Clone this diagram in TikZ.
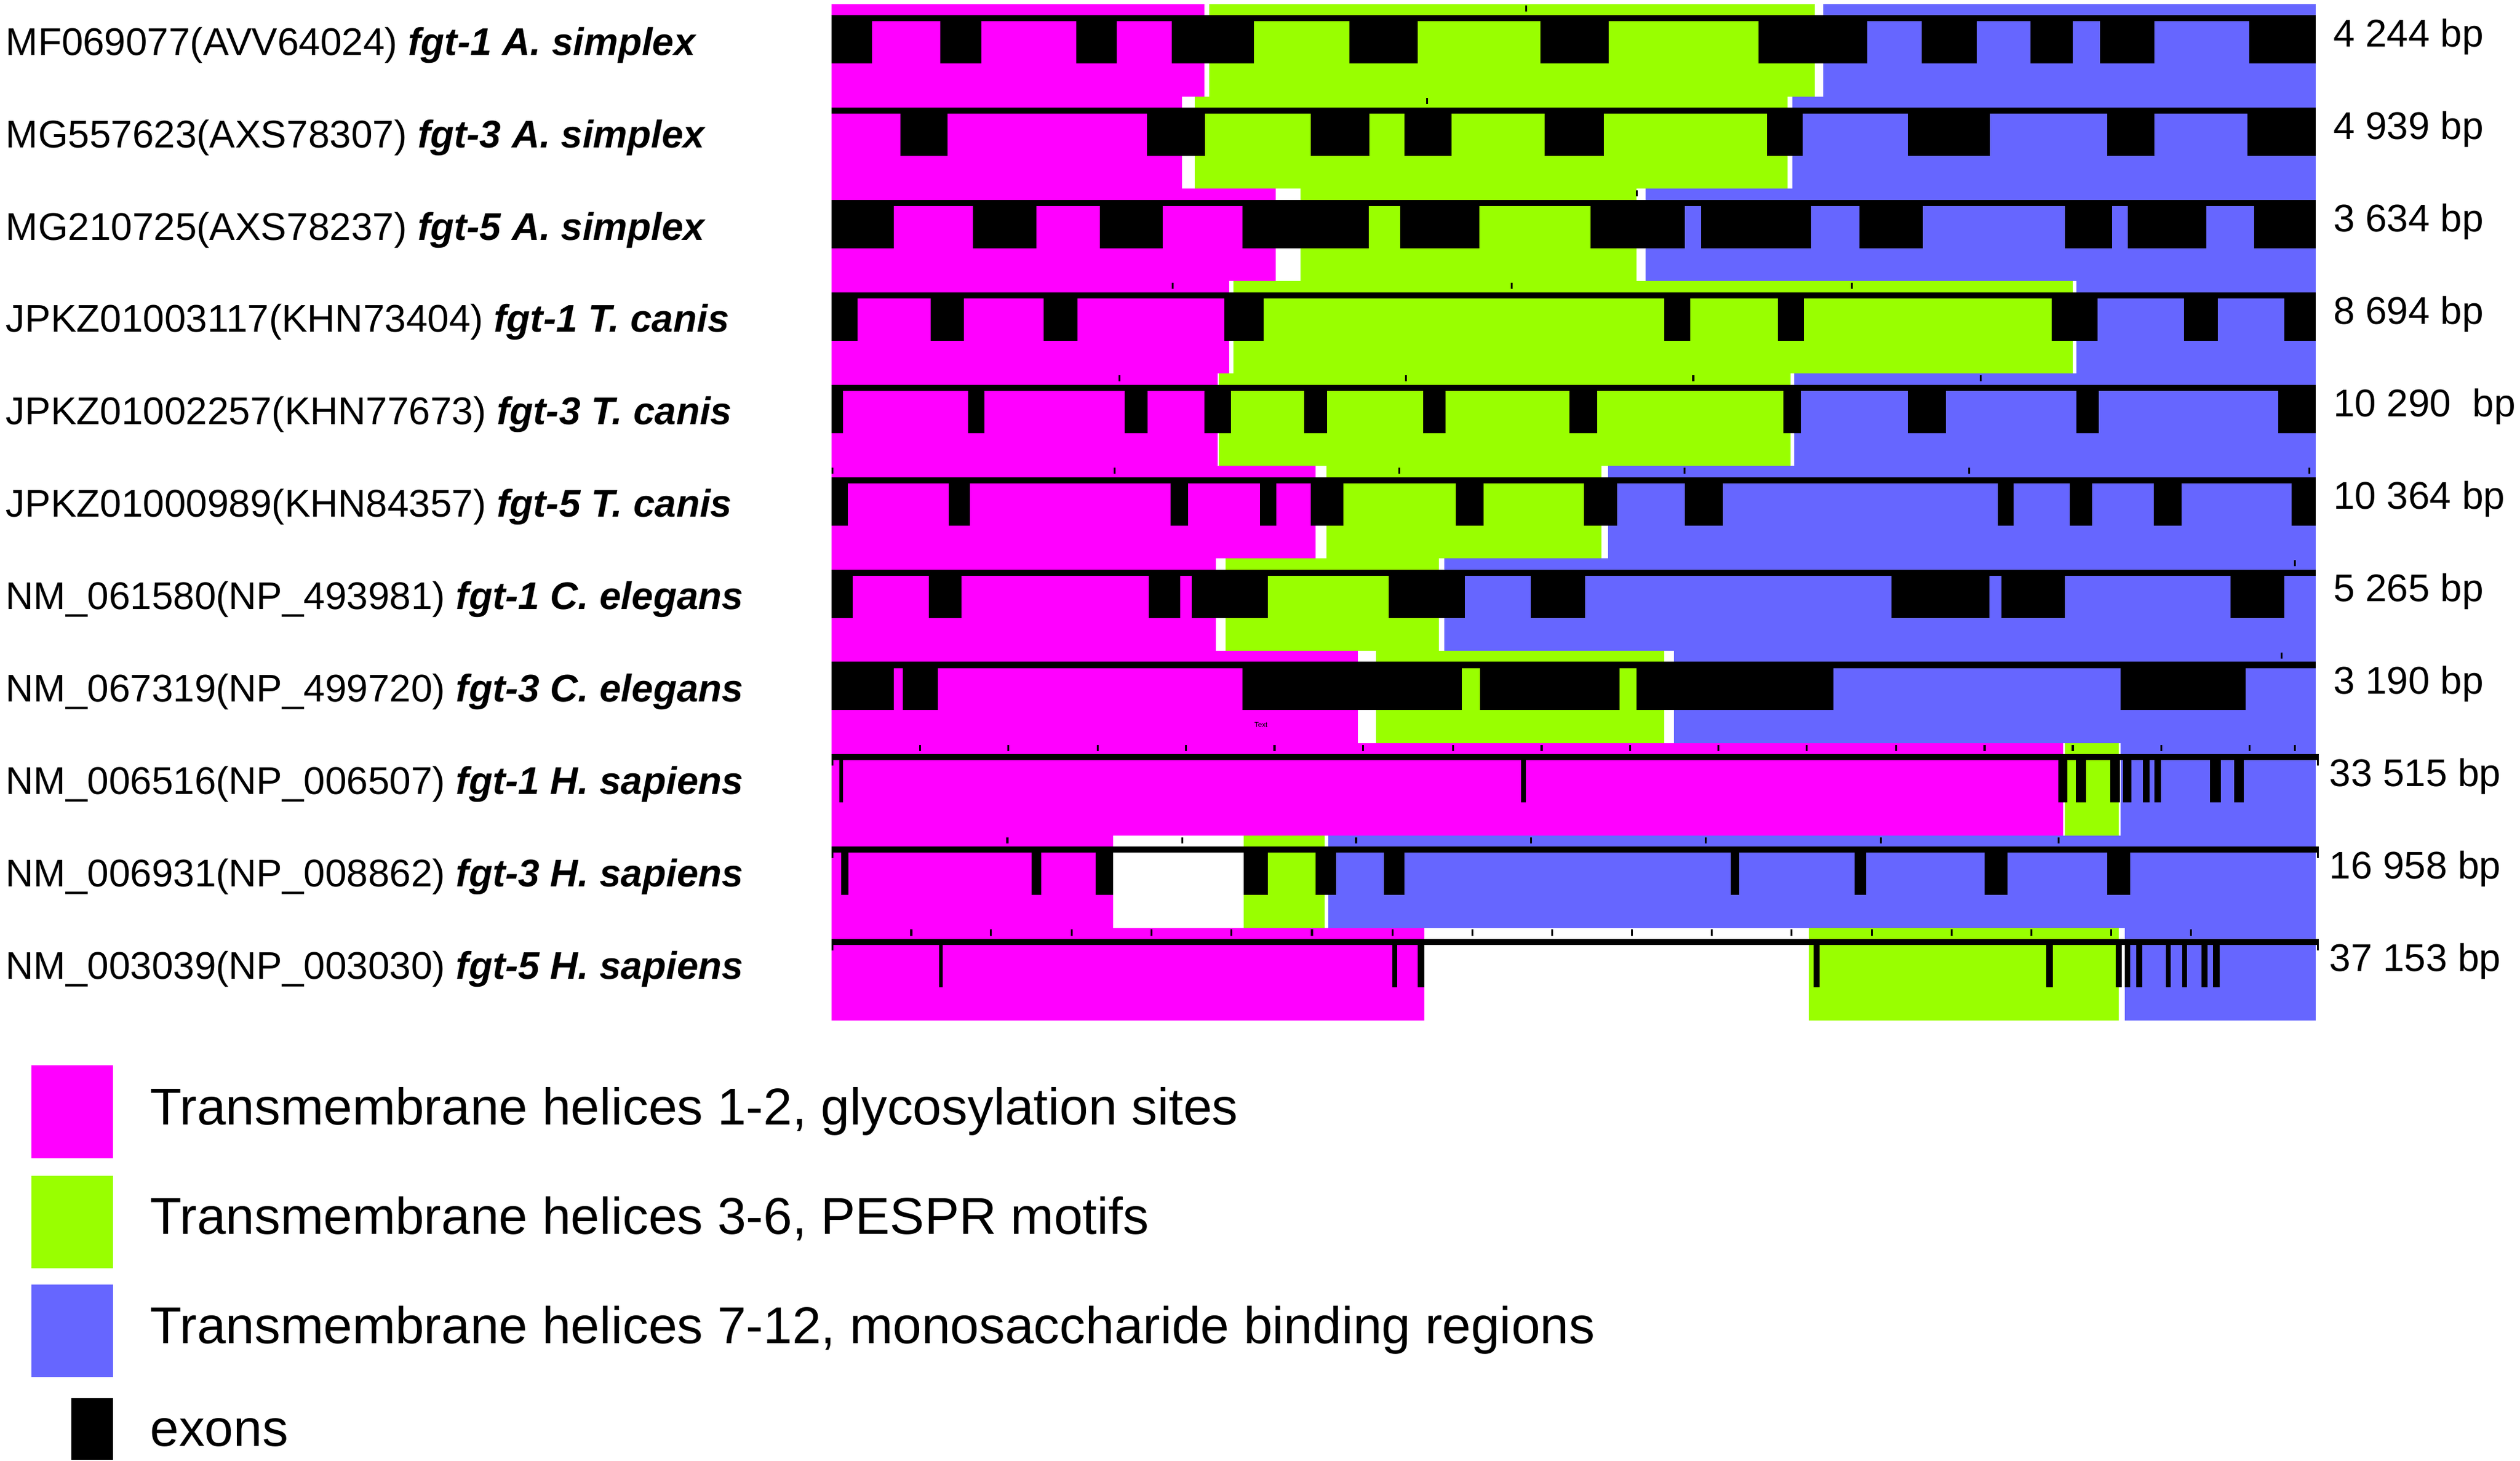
\documentclass[tikz,border=0pt]{standalone}
\usepackage{fontspec}
\setmainfont{Liberation Sans}
\definecolor{magc}{RGB}{255,0,255}
\definecolor{grnc}{RGB}{153,255,0}
\definecolor{bluc}{RGB}{102,102,255}
\tikzset{
  ticklin/.style={draw=black,line width=0.6pt},
  rowlabel/.style={anchor=base west,inner sep=0pt,font=\fontsize{12}{14}\selectfont},
  bplabel/.style={anchor=base west,inner sep=0pt,font=\fontsize{12}{14}\selectfont},
  legtext/.style={anchor=base west,inner sep=0pt,font=\fontsize{16.1}{19}\selectfont},
  endtick/.style={draw=black,line width=0.5pt}
}
% #1 row index, #2 colour regions colour/x1/x2, #3 exons x1/x2, #4 ticks, #5 extra
\newcommand{\generow}[5]{%
\begin{scope}[shift={(0,{9.4+57.5*#1})}]
  \foreach \cc/\p/\q in {#2} \fill[fill=\cc] (\p,-6.9) rectangle (\q,50.6);
  \fill[black] (517.4,0) rectangle (1441,3.8);
  \foreach \p/\q in {#3} \fill[black] (\p,0) rectangle (\q,30.1);
  \foreach \t in {#4} \draw[ticklin] (\t,-5.9) -- (\t,-2.1);
  #5
\end{scope}}
\begin{document}
\begin{tikzpicture}[x=0.5pt,y=-0.5pt]
\useasboundingbox (0,0) rectangle (1568,909.2);

\generow{0}{magc/517.4/749.3, grnc/752.3/1129, bluc/1134.3/1441}
{517.4/542.5, 585/610.6, 669.8/694.9, 729/780.4, 839.6/882, 958.6/1001, 1094.3/1161.8, 1195.9/1230, 1263.4/1289.7, 1306.5/1340.5, 1399.7/1441}
{949.6}{}

\generow{1}{magc/517.4/735.6, grnc/743.3/1112.2, bluc/1115.2/1441}
{560.4/589.7, 713.5/749.9, 815.7/852.1, 873.7/903, 961/998, 1099.6/1121.8, 1186.9/1238.3, 1311.3/1340.5, 1398.5/1441}
{888}{}

\generow{2}{magc/517.4/793.6, grnc/809.1/1018.3, bluc/1023.7/1441}
{517.4/556.2, 605.3/644.7, 684.2/723.6, 773.2/851.5, 871.3/920.3, 989.6/1048.2, 1058.4/1127.1, 1157/1196.5, 1285/1314.2, 1323.8/1372.8, 1402.7/1441}
{1018.3}{}

\generow{3}{magc/517.4/764.9, grnc/767.3/1289.7, bluc/1292.1/1441}
{517.4/533.5, 579/599.9, 649.5/670.4, 761.9/786.4, 1035.7/1051.8, 1106.2/1122.4, 1276.6/1305.3, 1359.1/1380, 1421.2/1441}
{729.6, 940.6, 1152.2}{}

\generow{4}{magc/517.4/757.7, grnc/758.6/1114, bluc/1116.4/1441}
{517.4/524.6, 602.3/612.4, 699.7/714, 749.3/766, 811.5/825.8, 885.6/899.4, 976.5/993.8, 1109.8/1120.6, 1186.9/1210.8, 1292.1/1305.9, 1417.6/1441}
{696.7, 874.9, 1053.6, 1232.3}{}

\generow{5}{magc/517.4/818.7, grnc/825.2/996.4, bluc/1000.4/1441}
{517.4/527.5, 590.3/603.5, 728.4/739.2, 784/794.2, 815.7/836, 906/923.3, 985.5/1006.4, 1048.2/1072.1, 1243.1/1252.7, 1288/1301.7, 1340/1357.3, 1426/1441}
{517.9, 693.7, 870.7, 1048.2, 1225.2, 1436.8}{}

\generow{6}{magc/517.4/756.5, grnc/762.5/895.2, bluc/898.8/1441}
{517.4/530.5, 577.8/598.1, 714.7/734.4, 741.6/788.8, 864.1/911.3, 952.6/986.1, 1176.8/1237.7, 1245.5/1285, 1387.8/1421.2}
{1427.9}{}

\generow{7}{magc/517.4/845, grnc/856.3/1035.7, bluc/1041.6/1441}
{517.4/556.2, 561.6/583.7, 773.2/909.5, 920.9/1007.6, 1018.3/1140.9, 1319.6/1397.3}
{1419.5}{\node[inner sep=0pt,font=\fontsize{2.2}{2.5}\selectfont] (tinytext) at (784.6,39.2) {Text};}

\generow{8}{magc/517.4/1283.8, grnc/1285/1318.4, bluc/1319.6/1441}
{522.2/524.6, 946.6/949.6, 1280.8/1286.2, 1291.5/1298.1, 1313/1319, 1320.8/1326.2, 1333.4/1337.6, 1340.5/1344.7, 1375.2/1381.8, 1390.2/1396.2}
{572.4, 627.4, 683, 738, 793, 848, 904.1, 959.2, 1014.2, 1069.2, 1124.2, 1179.8, 1234.8, 1289.7, 1344.7, 1399.7, 1427.9}
{\fill[black] (1441,0) rectangle (1442.8,3.8);
 \draw[endtick] (518,3.8) -- (518,7.2); \draw[endtick] (1442.2,3.8) -- (1442.2,7.2);}

\generow{9}{magc/517.4/692.5, grnc/773.8/824.1, bluc/826.4/1441}
{523.4/528.1, 641.7/647.7, 681.8/692.5, 773.8/788.8, 818.7/831.2, 861.1/873.7, 1077/1082.3, 1154/1161.2, 1234.7/1249.1, 1311.3/1325.6}
{626.8, 735.6, 843.8, 952.6, 1061.4, 1170.2, 1280.8}
{\fill[black] (1441,0) rectangle (1442.8,3.8);
 \draw[endtick] (518,3.8) -- (518,7.2); \draw[endtick] (1442.2,3.8) -- (1442.2,7.2);}

\generow{10}{magc/517.4/886.2, grnc/1125.3/1318.4, bluc/1322/1441}
{584.3/586.7, 866.5/869.5, 882/886.2, 1128.3/1132, 1273/1277.2, 1316.6/1320.2, 1322/1325.6, 1329.2/1332.8, 1347.8/1350.7, 1357.9/1360.9, 1369.8/1373.4, 1377/1381.2}
{567, 616.6, 666.8, 716.4, 766.1, 816.3, 866.5, 916.1, 965.7, 1015.3, 1065, 1114.6, 1164.8, 1214.4, 1264, 1313.6, 1363.3}
{\fill[black] (1441,0) rectangle (1442.8,3.8);
 \draw[endtick] (518,3.8) -- (518,7.2); \draw[endtick] (1442.2,3.8) -- (1442.2,7.2);}

% row labels
\node[rowlabel] (lbl0) at (3.3,34.3) {MF069077(AVV64024) {\bfseries\itshape fgt-1 A. simplex}};
\node[rowlabel] (lbl1) at (3.3,91.8) {MG557623(AXS78307) {\bfseries\itshape fgt-3 A. simplex}};
\node[rowlabel] (lbl2) at (3.3,149.3) {MG210725(AXS78237) {\bfseries\itshape fgt-5 A. simplex}};
\node[rowlabel] (lbl3) at (3.3,206.8) {JPKZ01003117(KHN73404) {\bfseries\itshape fgt-1 T. canis}};
\node[rowlabel] (lbl4) at (3.3,264.3) {JPKZ01002257(KHN77673) {\bfseries\itshape fgt-3 T. canis}};
\node[rowlabel] (lbl5) at (3.3,321.8) {JPKZ01000989(KHN84357) {\bfseries\itshape fgt-5 T. canis}};
\node[rowlabel] (lbl6) at (3.3,379.3) {NM\_061580(NP\_493981) {\bfseries\itshape fgt-1 C. elegans}};
\node[rowlabel] (lbl7) at (3.3,436.8) {NM\_067319(NP\_499720) {\bfseries\itshape fgt-3 C. elegans}};
\node[rowlabel] (lbl8) at (3.3,494.3) {NM\_006516(NP\_006507) {\bfseries\itshape fgt-1 H. sapiens}};
\node[rowlabel] (lbl9) at (3.3,551.8) {NM\_006931(NP\_008862) {\bfseries\itshape fgt-3 H. sapiens}};
\node[rowlabel] (lbl10) at (3.3,609.3) {NM\_003039(NP\_003030) {\bfseries\itshape fgt-5 H. sapiens}};

% sizes
\node[bplabel] (bp0) at (1451.5,29.3) {4 244 bp};
\node[bplabel] (bp1) at (1451.5,86.8) {4 939 bp};
\node[bplabel] (bp2) at (1451.5,144.3) {3 634 bp};
\node[bplabel] (bp3) at (1451.5,201.8) {8 694 bp};
\node[bplabel] (bp4) at (1451.5,259.3) {10 290~~bp};
\node[bplabel] (bp5) at (1451.5,316.8) {10 364 bp};
\node[bplabel] (bp6) at (1451.5,374.3) {5 265 bp};
\node[bplabel] (bp7) at (1451.5,431.8) {3 190 bp};
\node[bplabel] (bp8) at (1449,489.3) {33 515 bp};
\node[bplabel] (bp9) at (1449,546.8) {16 958 bp};
\node[bplabel] (bp10) at (1449,604.3) {37 153 bp};

% legend
\fill[magc] (19.5,662.8) rectangle (70.3,720.8);
\fill[grnc] (19.5,731.7) rectangle (70.3,789.4);
\fill[bluc] (19.5,799.4) rectangle (70.3,857.1);
\fill[black] (44.3,870.2) rectangle (70.3,908.4);
\node[legtext] (leg1) at (93,699.8) {Transmembrane helices 1-2, glycosylation sites};
\node[legtext] (leg2) at (93,768.2) {Transmembrane helices 3-6, PESPR motifs};
\node[legtext] (leg3) at (93,836) {Transmembrane helices 7-12, monosaccharide binding regions};
\node[legtext] (leg4) at (93,900) {exons};
\end{tikzpicture}
\end{document}
